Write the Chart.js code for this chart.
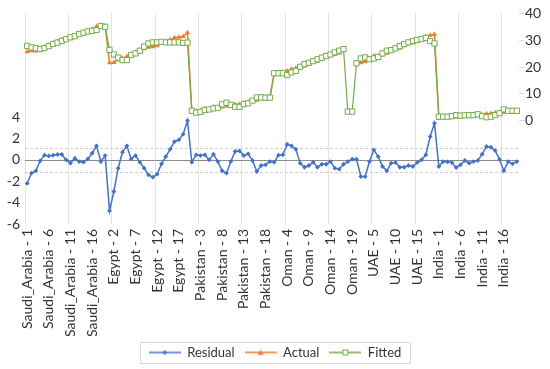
<!DOCTYPE html>
<html><head><meta charset="utf-8">
<script src="https://cdn.jsdelivr.net/npm/chart.js@4.4.1/dist/chart.umd.min.js"></script>
<style>html,body{margin:0;padding:0;background:#fff}</style>
</head><body>
<canvas id="c" width="550" height="369"></canvas>
<script>
const countries = ['Saudi_Arabia', 'Egypt', 'Pakistan', 'Oman', 'UAE', 'India'];
const periodsPerCountry = 19;
const categories = [];
countries.forEach(c => { for (let t = 1; t <= periodsPerCountry; t++) categories.push(c + ' - ' + t); });

const residual = [
  -2.2, -1.25, -1.03, -0.09, 0.44, 0.37, 0.44, 0.5, 0.5, 0.0, -0.31, 0.16, -0.16, -0.22, 0.09, 0.62, 1.31, -0.16, 0.4,
  -4.77, -2.96, -0.78, 0.72, 1.31, 0.09, 0.4, -0.22, -0.78, -1.4, -1.62, -1.34, -0.37, 0.31, 1.0, 1.71, 1.87, 2.4, 3.67,
  -0.22, 0.47, 0.4, 0.47, 0.0, 0.53, -0.16, -1.03, -1.25, -0.16, 0.78, 0.84, 0.4, 0.56, -0.06, -1.09, -0.53, -0.47, -0.16,
  -0.22, 0.44, 0.47, 1.46, 1.31, 1.0, -0.31, -0.69, -0.53, -0.22, -0.69, -0.41, -0.41, -0.16, -0.78, -0.87, -0.41, -0.16, 0.06,
  0.06, -1.56, -1.56, -0.16, 0.93, 0.31, -0.62, -1.03, -0.31, -0.25, -0.69, -0.69, -0.53, -0.62, -0.25, 0.0, 0.47, 2.18, 3.43,
  -0.62, -0.16, -0.19, -0.25, -0.72, -0.47, -0.06, -0.31, -0.16, -0.06, 0.53, 1.25, 1.18, 0.87, 0.06, -1.03, -0.16, -0.37, -0.16
];
const actual = [
  25.7, 26.1, 26.0, 26.6, 27.5, 28.2, 29.0, 29.6, 30.2, 30.4, 30.8, 31.7, 32.1, 32.6, 33.4, 34.1, 35.1, 35.1, 35.4,
  21.6, 21.7, 22.7, 23.3, 23.9, 24.6, 25.5, 25.9, 26.8, 27.4, 27.6, 27.9, 29.0, 29.5, 30.2, 30.9, 31.1, 31.4, 32.8,
  3.5, 3.5, 3.7, 4.5, 4.2, 5.1, 4.6, 5.1, 5.5, 5.7, 6.0, 6.0, 6.6, 7.1, 7.4, 7.6, 8.2, 8.1, 8.4,
  17.5, 18.1, 18.2, 18.5, 19.3, 19.6, 19.8, 20.4, 21.1, 22.0, 22.2, 23.1, 23.7, 24.5, 24.7, 25.2, 26.3, null, null,
  21.5, 21.6, 22.0, 22.7, 24.1, 24.1, 24.5, 25.1, 26.0, 26.8, 27.1, 27.9, 28.7, 29.1, 29.9, 30.4, 31.4, 31.9, 32.2,
  0.9, 1.3, 1.3, 1.5, 1.4, 1.4, 1.9, 1.8, 1.9, 2.3, 2.2, 2.6, 2.7, 3.0, 2.9, 3.2, 3.5, 3.3, 3.5
];
const fitted = [
  27.9, 27.3, 27.0, 26.7, 27.1, 27.8, 28.6, 29.1, 29.7, 30.4, 31.1, 31.5, 32.3, 32.8, 33.3, 33.5, 33.8, 35.3, 35.0,
  26.4, 24.7, 23.5, 22.6, 22.6, 24.5, 25.1, 26.1, 27.6, 28.8, 29.2, 29.2, 29.4, 29.2, 29.2, 29.2, 29.2, 29.0, 29.1,
  3.7, 3.0, 3.3, 4.0, 4.2, 4.6, 4.8, 6.1, 6.7, 5.9, 5.2, 5.2, 6.2, 6.5, 7.5, 8.7, 8.7, 8.6, 8.6,
  17.7, 17.7, 17.7, 17.0, 18.0, 18.6, 20.1, 21.1, 21.6, 22.2, 22.9, 23.5, 24.1, 24.7, 25.5, 26.1, 26.7, 3.4, 3.4,
  21.4, 23.2, 23.6, 22.9, 23.2, 23.8, 25.1, 26.1, 26.3, 27.0, 27.8, 28.6, 29.2, 29.7, 30.1, 30.4, 30.9, 29.7, 28.8,
  1.5, 1.5, 1.5, 1.7, 2.1, 1.9, 2.0, 2.1, 2.1, 2.4, 1.7, 1.3, 1.5, 2.1, 2.8, 4.2, 3.7, 3.7, 3.7
];
const residualTicks = [-6, -4, -2, 0, 2, 4];
const valueTicks = [0, 10, 20, 30, 40];
const seBand = 1.15;

const FONT = 'Lato';
const TXT = '#333333';
const BLUE = '#4472C4', ORANGE = '#ED7D31', GREEN = '#70AD47';

function legendIcon(color, kind) {
  const cv = document.createElement('canvas');
  cv.width = 32; cv.height = 10;
  const g = cv.getContext('2d');
  g.strokeStyle = color; g.lineWidth = 1.5;
  g.beginPath(); g.moveTo(0, 5); g.lineTo(32, 5); g.stroke();
  g.fillStyle = color;
  if (kind === 'diamond') {
    g.beginPath(); g.moveTo(16, 2.5); g.lineTo(18.5, 5); g.lineTo(16, 7.5); g.lineTo(13.5, 5); g.closePath(); g.fill();
  } else if (kind === 'triangle') {
    g.beginPath(); g.moveTo(16, 2); g.lineTo(19, 7.5); g.lineTo(13, 7.5); g.closePath(); g.fill();
  } else {
    g.fillStyle = '#fff'; g.lineWidth = 1;
    g.fillRect(13.5, 2.5, 5, 5); g.strokeRect(13.5, 2.5, 5, 5);
  }
  return cv;
}
const icons = [legendIcon(BLUE, 'diamond'), legendIcon(ORANGE, 'triangle'), legendIcon(GREEN, 'square')];

const refLines = {
  id: 'refLines',
  beforeDatasetsDraw(chart) {
    const {ctx, chartArea} = chart;
    const y = chart.scales.yRes;
    ctx.save();
    ctx.lineWidth = 1;
    ctx.strokeStyle = '#d0d0d0';
    ctx.setLineDash([3, 2]);
    [seBand, -seBand].forEach(v => {
      const p = Math.round(y.getPixelForValue(v)) + 0.5;
      ctx.beginPath(); ctx.moveTo(chartArea.left, p); ctx.lineTo(chartArea.right, p); ctx.stroke();
    });
    ctx.setLineDash([]);
    ctx.strokeStyle = '#8c8c8c';
    const p0 = Math.round(y.getPixelForValue(0)) + 0.5;
    ctx.beginPath(); ctx.moveTo(chartArea.left, p0); ctx.lineTo(chartArea.right, p0); ctx.stroke();
    ctx.restore();
  }
};
const legendBox = {
  id: 'legendBox',
  afterDraw(chart) {
    const L = chart.legend;
    if (!L || !L.legendHitBoxes || !L.legendHitBoxes.length) return;
    const hb = L.legendHitBoxes;
    const left = Math.min(...hb.map(h => h.left)) - 9;
    const right = Math.max(...hb.map(h => h.left + h.width)) + 8;
    const top = Math.min(...hb.map(h => h.top)) - 4;
    const bottom = Math.max(...hb.map(h => h.top + h.height)) + 4;
    const ctx = chart.ctx;
    ctx.save();
    ctx.strokeStyle = '#d9d9d9'; ctx.lineWidth = 1;
    ctx.strokeRect(Math.round(left) + 0.5, Math.round(top) + 0.5, Math.round(right - left), Math.round(bottom - top));
    ctx.restore();
  }
};

new Chart(document.getElementById('c'), {
  type: 'line',
  data: {
    labels: categories,
    datasets: [
      { label: 'Residual', data: residual, yAxisID: 'yRes', borderColor: BLUE, backgroundColor: BLUE,
        borderWidth: 1.5, pointStyle: 'rectRot', pointRadius: 2.4, pointBorderWidth: 0, order: 2 },
      { label: 'Actual', data: actual, yAxisID: 'yVal', borderColor: ORANGE, backgroundColor: ORANGE,
        borderWidth: 1.5, pointStyle: 'triangle', pointRadius: 3, pointBorderWidth: 0, spanGaps: false, order: 1 },
      { label: 'Fitted', data: fitted, yAxisID: 'yVal', borderColor: GREEN, backgroundColor: '#ffffff',
        borderWidth: 1.2, pointStyle: 'rect', pointRadius: 3.7, pointBorderWidth: 1, order: 0 }
    ]
  },
  options: {
    responsive: false,
    animation: false,
    devicePixelRatio: 1,
    layout: { padding: { top: 6, bottom: 0, left: 0, right: 0 } },
    elements: { line: { tension: 0 } },
    scales: {
      x: {
        type: 'category', offset: true,
        grid: { offset: true, drawTicks: false, lineWidth: 1,
          color: ctx => (ctx.index % 10 === 0 ? '#e3e3e3' : 'rgba(0,0,0,0)') },
        border: { display: false },
        ticks: { autoSkip: false, maxRotation: 90, minRotation: 90, padding: 5, color: TXT,
          font: { family: FONT, size: 14 },
          callback: (v, i) => (i % 5 === 0 ? categories[i] : '') },
        afterFit: s => { s.height = 112; }
      },
      yRes: {
        position: 'left', min: -6, max: 13.7,
        grid: { display: false, drawTicks: false },
        border: { display: false },
        ticks: { stepSize: 2, padding: 5, color: TXT, font: { family: FONT, size: 14 },
          callback: v => (residualTicks.includes(v) ? String(v) : '') },
        afterFit: s => { s.width = 25; }
      },
      yVal: {
        position: 'right', min: -38.5, max: 40,
        grid: { drawOnChartArea: false, drawTicks: true, tickLength: 5,
          color: ctx => (ctx.tick && valueTicks.includes(ctx.tick.value) ? '#d9d9d9' : 'rgba(0,0,0,0)') },
        border: { display: false },
        ticks: { stepSize: 10, padding: 1, color: TXT, font: { family: FONT, size: 14 },
          callback: v => (valueTicks.includes(v) ? String(v) : '') },
        afterFit: s => { s.width = 31; }
      }
    },
    plugins: {
      tooltip: { enabled: false },
      legend: {
        position: 'bottom',
        labels: {
          usePointStyle: true, pointStyleWidth: 32, padding: 10, color: TXT,
          font: { family: FONT, size: 13 },
          sort: (a, b) => a.datasetIndex - b.datasetIndex,
          generateLabels: chart => Chart.defaults.plugins.legend.labels.generateLabels(chart).map(it => {
            it.pointStyle = icons[it.datasetIndex]; it.rotation = 0; return it;
          })
        }
      }
    }
  },
  plugins: [refLines, legendBox]
});
</script>
</body></html>
